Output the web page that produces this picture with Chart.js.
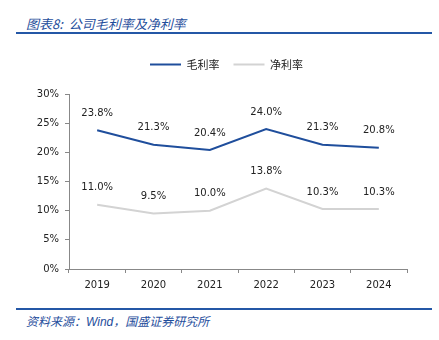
<!DOCTYPE html>
<html>
<head>
<meta charset="utf-8">
<script src="https://cdn.jsdelivr.net/npm/chart.js@4.4.1/dist/chart.umd.min.js"></script>
<style>
    html, body { margin: 0; padding: 0; background: #fff; }
    body { width: 439px; height: 340px; position: relative; overflow: hidden; }
    .titulo { position: absolute; left: 26px; top: 14px; font: italic 13px "Noto Sans CJK SC", sans-serif; color: #1f4e9c; }
    .linea { position: absolute; left: 16px; width: 416px; height: 2px; background: #2457a6; }
    .fuente { position: absolute; left: 26px; top: 312px; font: italic 12px "Noto Sans CJK SC", sans-serif; color: #1f4e9c; }
    #contenedorGrafico { position: absolute; left: 0; top: 45px; width: 439px; height: 252px; }
</style>
</head>
<body>
<div class="titulo">图表8:&nbsp; 公司毛利率及净利率</div>
<div class="linea" style="top:32px;"></div>
<div id="contenedorGrafico"><canvas id="graficoMargen" width="439" height="252"></canvas></div>
<div class="linea" style="top:308px;"></div>
<div class="fuente">资料来源：<span style="font-family:'Liberation Sans',sans-serif;">Wind</span>，国盛证券研究所</div>

<script>
const anios = ['2019', '2020', '2021', '2022', '2023', '2024'];
const margenBruto = [23.8, 21.3, 20.4, 24.0, 21.3, 20.8];   // 毛利率
const margenNeto = [11.0, 9.5, 10.0, 13.8, 10.3, 10.3];     // 净利率
const ticksY = [0, 5, 10, 15, 20, 25, 30];

Chart.defaults.font.family = "'DejaVu Sans', 'Noto Sans CJK SC', sans-serif";
Chart.defaults.font.size = 10;
Chart.defaults.color = '#222';

// etiquetas encima de cada punto (no hay datalabels offline)
const etiquetas = {
    id: 'etiquetas',
    afterDatasetsDraw(chart) {
        const ctx = chart.ctx;
        ctx.save();
        ctx.font = "10px 'DejaVu Sans'";
        ctx.fillStyle = '#222';
        ctx.textAlign = 'center';
        ctx.textBaseline = 'middle';
        chart.data.datasets.forEach((ds, i) => {
            chart.getDatasetMeta(i).data.forEach((p, j) => {
                ctx.fillText(ds.data[j].toFixed(1) + '%', p.x, p.y - 17);
            });
        });
        ctx.restore();
    }
};

// espacio extra debajo de la leyenda y leyenda algo a la derecha
const espacioLeyenda = {
    id: 'espacioLeyenda',
    afterInit(chart) {
        const fitOriginal = chart.legend.fit;
        chart.legend.fit = function () {
            fitOriginal.call(this);
            this.height += 14;
        };
    },
    afterLayout(chart) {
        chart.legend.left += 23;
        chart.legend.right += 23;
    }
};

const ctx = document.getElementById('graficoMargen').getContext('2d');

new Chart(ctx, {
    type: 'line',
    plugins: [etiquetas, espacioLeyenda],
    data: {
        labels: anios,
        datasets: [
            {
                label: '毛利率',
                data: margenBruto,
                borderColor: '#1f4e9c',
                backgroundColor: '#1f4e9c',
                borderWidth: 2,
                pointRadius: 0,
                tension: 0
            },
            {
                label: '净利率',
                data: margenNeto,
                borderColor: '#d3d3d3',
                backgroundColor: '#d3d3d3',
                borderWidth: 2,
                pointRadius: 0,
                tension: 0
            }
        ]
    },
    options: {
        responsive: false,
        animation: false,
        layout: { padding: { left: 0, right: 32, top: 0, bottom: 0 } },
        plugins: {
            tooltip: { enabled: false },
            legend: {
                position: 'top',
                labels: {
                    boxWidth: 31,
                    boxHeight: 2,
                    padding: 14,
                    font: { size: 11, family: "'Noto Sans CJK SC', sans-serif" },
                    color: '#222',
                    generateLabels: (c) => Chart.defaults.plugins.legend.labels.generateLabels(c)
                        .map(l => Object.assign(l, { strokeStyle: 'rgba(0,0,0,0)' }))
                }
            }
        },
        scales: {
            x: {
                offset: true,
                grid: { offset: true, drawOnChartArea: false, drawTicks: true, tickLength: 4, color: '#888' },
                border: { color: '#888', width: 1 },
                ticks: { padding: 6 }
            },
            y: {
                min: 0,
                max: 30,
                afterBuildTicks: (s) => { s.ticks = ticksY.map(v => ({ value: v })); },
                afterFit: (s) => { s.width = 69; },
                grid: { drawOnChartArea: false, drawTicks: true, tickLength: 4, color: '#888' },
                border: { color: '#888', width: 1 },
                ticks: { padding: 6, callback: v => v + '%' }
            }
        }
    }
});
</script>
</body>
</html>
